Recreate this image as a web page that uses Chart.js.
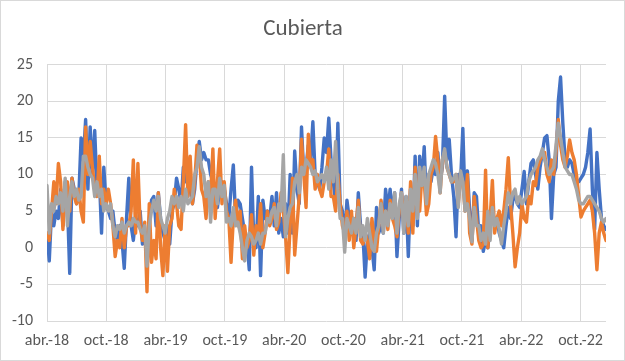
<!DOCTYPE html>
<html>
<head>
<meta charset="utf-8">
<script src="https://cdn.jsdelivr.net/npm/chart.js@4.4.1/dist/chart.umd.min.js"></script>
<style>
  html, body { margin: 0; padding: 0; background: #fff; }
  #wrap { width: 625px; height: 361px; }
</style>
</head>
<body>
<div id="wrap"><canvas id="cubiertaChart" width="625" height="361"></canvas></div>
<script>
// semanal, abr.-18 a dic.-22 (una fila = 26 semanas)
const serie1 = [
  2,-1.8,5,3,5,4,8,3,9,6,-3.5,9.5,8,6,7,15,12,17.5,8,16.5,10,16,8,10,2,11,
  6,5,4,5,2,1,3,1,-2.8,4,9.5,3,1,4,3,5,0.5,2,0,4,6.5,7,3,7.5,4,2,
  1,3,0.5,5,6,9.5,8,6,11,9,10,8,6,8,12,14.5,12,13,12,12,10,9,8,5.5,8,9,
  8,6,4,8,11.3,4,6.5,6,4,2,1,-3,11,1,0,7,-3.8,6.5,4,5,4,7,3,7.5,2,4,
  1.5,6,2,10,2,13.2,8,6,16.5,10,11,14,12,17.2,10,9,8,11,15,13,17.7,12,9,6,17,6,
  5,1.3,6.5,4,2,4,1,7.5,3,2,-4,1,2,0,-3,5.5,2,3,2,8,5,8,4.5,7.5,-1.2,4,
  8,2,7,-1.2,8,3,12.5,3,12.5,9,13.8,6,10,9,11,10,13,9,11,20.7,12,14.8,10,7,1.5,10,
  9,16.3,6,10.5,5,1,7.5,7,2,3,-0.5,1,0,3,5.5,3,4,2,1,0,3,5.5,4,6.5,7,6,
  5.5,8,10.4,6,9,11.5,12,10,8,11,13,15,15.3,12,4,10,11,20,23.3,17,12,11,12,11.5,10,9,
  9,9.5,10,11,13,16.2,8,2.5,13,8,4,3,2.5
];
const serie2 = [
  2,1,5,9,6,11.5,9,2.5,7,9,5,9.5,7,6,8,5,3.5,16.5,10,14.5,11,8,7,12.5,6,8,
  6,8,6,3,-1.2,1,0,4,0,3,3,5,12,2,11.5,3,1,3.5,-6,6,-2,1,-1.5,7.5,0,-3.8,
  3,-3.2,3,4,8,6,3,2.5,9,16.8,7,12.5,6,9,14,13,8,7,4,9,7,13.5,4,9,13.5,6,
  9,5,4,-2,4,6.5,3,5,-1.5,3,0,1,4.5,-1,3,1.5,6,0,2,5,3,4,6,2.5,3.5,7.5,
  5,1.5,-3.4,3,9.5,-1,3,7,14.8,10,5.5,15.5,11,12,8,10,8,7,9,10,13.5,7,7,5,10,6,
  3,2,5,1,5,0,3,6.5,1,0.5,2,1,-1.5,4,1,-0.5,3,6.5,4,5,2.5,6.5,4,3,1.5,5,
  7.5,4,6,2,9,2,11,7,5,10,9,4.5,6,10,11,15.2,12,7.5,12,13,11,10,9,9,10,6,
  10,9,5,10,2,0.5,7,4,1,0,0.5,10.6,0,4,9.2,2,4,5,3,5,8,12.3,6,2,-2.6,0,
  2,6,4,3.5,7,6,9,8.5,11,12,12.5,13,10,9,12,10,13,17.5,14,12,11,12.5,14.7,13,12,10,
  7,4.2,5,5.5,6,6.5,5,2,-3,2,3.5,2,1
];
const serie3 = [
  8.5,2,6,5,7,6,7.5,5,9.5,3,7,9,7,8,6.5,7,12.5,12.5,11,10,9.5,7,9,7,8,5,
  6,5,6,3,1.5,3,2.5,3.5,2,3,3.5,3,4,3.5,3.5,2.5,2,3,-2.5,3,5,6.5,5,7,4,3,
  2,4,5,7,6,7,5.5,7,5,8,6,6.5,7,10,11,13.8,11,10,7,9,3.5,8,8,6,9.5,7,
  8.5,3.5,4,3,5.5,3,3.5,2,0,-1.8,1,2,1.5,0.5,1,2,0.5,2,2,4,3.5,5,5.5,3,6,5,
  12.7,1.5,4,5.5,6,9,10,7.5,11,10,12,11.5,11,10,10.5,9,9.5,10,9,11,8,12,9,14.5,8,4,
  4,-0.6,4,3,2,4,2,5.5,1.5,3,1,4,2,0,-0.5,2,3,6,2,5,3,6,4,7.5,2,6,
  7.5,2,7,3,8,5,10,4,11,8.5,11,6,10,11,12,11.5,10,7.5,12,13.5,11,10,9,9.5,10,5.5,
  10.5,9,5,6,4,0.8,5.5,3,3,1,2,0.5,5,1,5.5,3,4,2.5,0.5,3,5,7.5,6,7.5,8,6,
  7,6,6.5,7,9,10,10.5,11,12,12.5,13.5,12,11,10,10.5,11,14,17,15,13,11,10.5,10,10,9,8,
  6.5,6,6,6.5,7,7,6.5,6,5.5,5,4,3.5,4
];
const xTickLabels = ["abr.-18","oct.-18","abr.-19","oct.-19","abr.-20","oct.-20","abr.-21","oct.-21","abr.-22","oct.-22"];
const yMin = -10, yMax = 25, yStep = 5;

const weeksPerHalfYear = 365.25 / 14;
const toPoints = arr => arr.map((v, i) => ({ x: i, y: v }));

const chartBorder = {
  id: "chartBorder",
  afterDraw(chart) {
    const c = chart.ctx;
    c.save();
    c.strokeStyle = "#d9d9d9";
    c.lineWidth = 1;
    c.strokeRect(0.5, 0.5, chart.width - 1, chart.height - 1);
    c.restore();
  }
};

const font = "Carlito, Calibri, 'Liberation Sans Narrow', 'Noto Sans', sans-serif";

new Chart(document.getElementById("cubiertaChart"), {
  type: "line",
  data: {
    datasets: [
      { label: "Serie 3", data: toPoints(serie3), borderColor: "#a5a5a5", order: 0 },
      { label: "Serie 2", data: toPoints(serie2), borderColor: "#ed7d31", order: 1 },
      { label: "Serie 1", data: toPoints(serie1), borderColor: "#4472c4", order: 2 }
    ]
  },
  options: {
    responsive: false,
    animation: false,
    events: [],
    elements: {
      line: { borderWidth: 3.4, tension: 0, borderJoinStyle: "round", borderCapStyle: "round" },
      point: { radius: 0 }
    },
    layout: { padding: { left: 0, right: 19, top: 0, bottom: 0 } },
    plugins: {
      legend: { display: false },
      tooltip: { enabled: false },
      title: {
        display: true,
        text: "Cubierta",
        color: "#595959",
        font: { family: font, size: 23, weight: "normal" },
        padding: { top: 15, bottom: 22 }
      }
    },
    scales: {
      x: {
        type: "linear",
        min: 0,
        max: serie1.length - 1,
        afterBuildTicks: s => {
          s.ticks = xTickLabels.map((_, k) => ({ value: k * weeksPerHalfYear }));
        },
        afterFit: s => { s.height = 40; },
        grid: { color: "#d9d9d9", drawTicks: false },
        border: { display: false },
        ticks: {
          autoSkip: false,
          maxRotation: 0,
          padding: 10,
          color: "#595959",
          font: { family: font, size: 16 },
          callback: (v, i) => xTickLabels[i]
        }
      },
      y: {
        min: yMin,
        max: yMax,
        afterFit: s => { s.width = 47; },
        grid: { color: "#d9d9d9", drawTicks: false },
        border: { display: false },
        ticks: {
          stepSize: yStep,
          padding: 14,
          color: "#595959",
          font: { family: font, size: 16 }
        }
      }
    }
  },
  plugins: [chartBorder]
});
</script>
</body>
</html>
